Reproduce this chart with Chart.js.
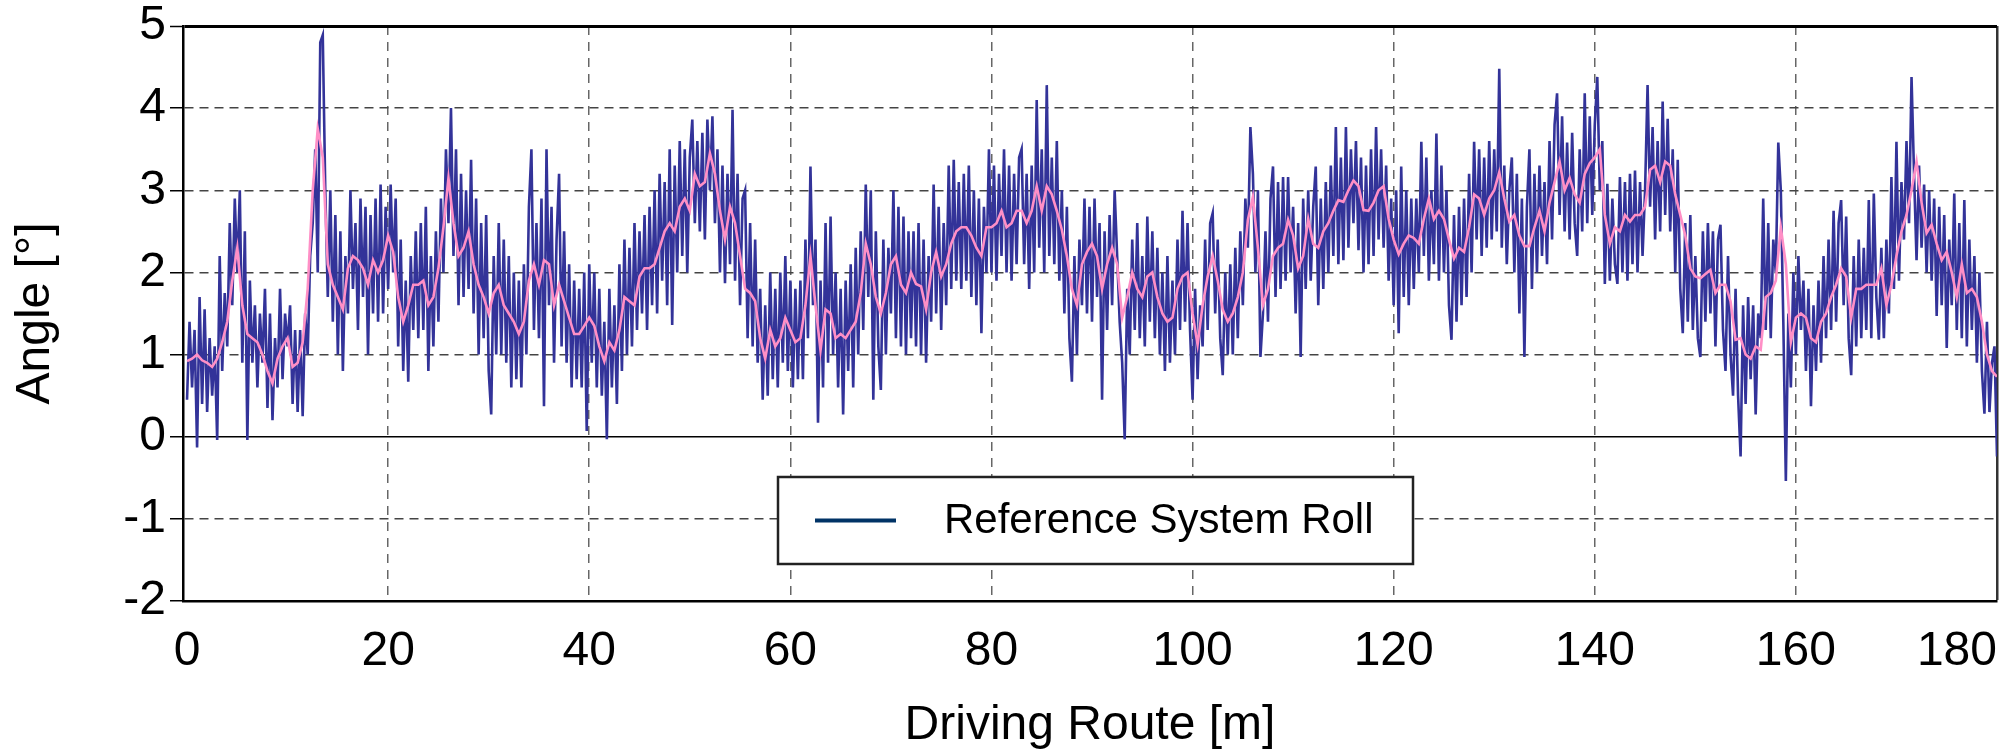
<!DOCTYPE html>
<html>
<head>
<meta charset="utf-8">
<title>Reference System Roll</title>
<script src="https://cdn.jsdelivr.net/npm/chart.js@4.4.1/dist/chart.umd.min.js"></script>
<style>
  html, body { margin: 0; padding: 0; background: #fff; }
  #wrap { width: 2009px; height: 750px; }
</style>
</head>
<body>
<div id="wrap"><canvas id="chart" width="2009" height="750"></canvas></div>
<script>
// Roll angle along the driving route, raw signal + smoothed trend

const xTicks = [0, 20, 40, 60, 80, 100, 120, 140, 160, 180];
const yTicks = [-2, -1, 0, 1, 2, 3, 4, 5];

const legendLabel = 'Reference System Roll';
const xTitle = 'Driving Route [m]';
const yTitle = 'Angle [°]';

// raw roll angle [°], one sample every 0.25 m (0 .. 180 m)
const rollStep = 0.25;
const rollRaw = [
  0.45, 1.4, 0.6, 1.3, -0.13, 1.7, 0.4, 1.55, 0.3, 1.2, 0.5, 1.1, -0.04, 2.2, 0.8, 1.75, 1.1, 2.6, 1.6, 2.9,
  2.0, 3.0, 0.9, 2.5, -0.04, 1.9, 0.9, 1.6, 0.6, 1.5, 0.9, 1.8, 0.35, 1.5, 0.2, 1.2, 0.6, 1.8, 0.7, 1.5,
  1.1, 1.6, 0.4, 1.3, 0.3, 1.3, 0.25, 1.5, 1.0, 2.2, 2.6, 3.5, 2.0, 4.8, 4.89, 3.0, 1.7, 3.0, 1.4, 2.7,
  1.0, 2.5, 0.8, 2.2, 1.5, 3.0, 1.8, 2.6, 1.3, 2.9, 1.7, 2.8, 1.0, 2.7, 1.5, 2.9, 1.4, 3.07, 1.5, 2.8,
  1.8, 3.07, 2.0, 2.9, 1.1, 2.4, 0.8, 1.9, 0.67, 2.2, 1.3, 2.5, 1.2, 2.6, 1.3, 2.8, 0.8, 2.2, 1.1, 2.5,
  1.4, 2.9, 2.0, 3.5, 2.6, 4.0, 2.2, 3.5, 1.6, 3.2, 1.7, 3.0, 1.8, 3.37, 1.5, 2.9, 1.0, 2.6, 1.2, 2.7,
  0.8, 0.27, 2.2, 1.0, 2.6, 1.0, 2.4, 0.9, 2.2, 0.6, 2.0, 0.7, 1.9, 0.6, 2.1, 1.0, 2.8, 3.5, 1.3, 2.6,
  1.2, 2.9, 0.37, 3.5, 1.6, 2.8, 0.9, 2.4, 3.2, 1.1, 2.5, 0.9, 2.1, 0.6, 1.9, 0.7, 1.8, 0.6, 2.0, 0.07,
  2.1, 0.9, 2.0, 0.6, 1.8, 0.5, 1.4, -0.03, 1.8, 0.6, 1.6, 0.4, 2.1, 0.8, 2.4, 1.0, 2.3, 1.1, 2.6, 1.3,
  2.5, 1.5, 2.7, 1.3, 2.8, 1.6, 3.0, 1.5, 3.2, 1.9, 3.1, 1.6, 3.5, 1.36, 3.3, 2.0, 3.6, 2.2, 3.5, 2.0,
  3.4, 3.86, 2.6, 3.6, 2.5, 3.7, 2.4, 3.86, 3.0, 3.9, 2.6, 3.5, 2.0, 3.3, 1.87, 3.2, 2.1, 3.98, 1.9, 3.2,
  1.6, 2.9, 3.0, 1.2, 2.6, 1.1, 2.4, 0.9, 1.8, 0.45, 1.6, 0.5, 2.0, 0.7, 1.8, 0.6, 2.0, 0.9, 2.2, 0.8,
  1.9, 0.6, 1.8, 0.7, 1.9, 0.7, 2.4, 1.2, 3.29, 1.6, 2.4, 0.17, 1.9, 0.6, 2.6, 0.9, 2.68, 1.0, 2.0, 0.6,
  1.8, 0.27, 1.9, 0.8, 2.1, 0.6, 2.3, 1.0, 2.5, 1.3, 3.07, 1.7, 3.0, 0.45, 2.5, 1.1, 0.57, 2.4, 1.0, 2.3,
  1.5, 3.0, 1.2, 2.8, 1.1, 2.68, 1.0, 2.5, 1.2, 2.5, 1.1, 2.6, 1.0, 2.4, 0.9, 2.2, 1.4, 3.07, 1.5, 2.8,
  1.3, 2.6, 1.6, 3.3, 1.8, 3.37, 1.9, 3.1, 1.8, 3.2, 1.9, 3.3, 1.7, 3.0, 1.6, 2.9, 1.26, 2.8, 2.0, 3.5,
  2.0, 3.3, 1.9, 3.2, 2.2, 3.5, 2.0, 3.3, 1.9, 3.2, 2.1, 3.4, 3.5, 2.1, 3.2, 1.8, 3.3, 2.0, 4.1, 2.3,
  3.5, 2.0, 4.28, 2.2, 3.4, 2.1, 3.6, 1.9, 3.0, 1.5, 2.8, 1.2, 0.67, 2.2, 1.0, 2.4, 1.6, 2.9, 1.5, 2.8,
  1.4, 2.9, 1.7, 2.6, 0.45, 2.5, 1.3, 2.7, 1.6, 3.0, 2.2, 1.4, 0.9, -0.03, 1.8, 1.0, 2.4, 1.3, 2.6, 1.2,
  2.2, 1.1, 2.68, 1.4, 2.5, 1.2, 2.3, 1.0, 2.0, 0.8, 2.2, 0.9, 1.9, 1.0, 2.4, 1.3, 2.75, 1.4, 2.6, 1.3,
  0.45, 1.8, 0.7, 1.6, 1.1, 2.4, 1.3, 2.6, 2.72, 1.5, 2.4, 1.2, 0.75, 2.0, 1.0, 2.1, 1.0, 2.3, 1.2, 2.5,
  1.6, 2.9, 2.3, 3.77, 3.2, 2.0, 3.0, 0.97, 1.5, 2.5, 1.4, 2.9, 3.29, 1.7, 3.1, 1.8, 3.16, 1.9, 3.16, 2.0,
  2.8, 1.5, 2.6, 0.97, 2.9, 1.8, 3.0, 1.9, 2.8, 3.29, 1.6, 2.9, 1.8, 3.1, 2.0, 3.3, 2.2, 3.77, 2.1, 3.4,
  2.15, 3.77, 2.3, 3.5, 2.6, 3.6, 2.27, 3.4, 2.0, 3.3, 2.1, 3.5, 2.2, 3.77, 2.4, 3.5, 2.3, 3.3, 1.9, 2.9,
  1.6, 3.0, 1.26, 3.29, 1.7, 3.0, 1.6, 2.9, 1.8, 2.9, 2.0, 3.59, 2.2, 3.4, 1.9, 3.0, 2.1, 3.69, 1.9, 3.3,
  2.0, 3.0, 1.6, 1.18, 2.7, 1.4, 2.8, 1.6, 2.9, 1.7, 3.2, 2.0, 3.59, 2.4, 3.5, 2.2, 3.4, 2.3, 3.6, 2.4,
  3.5, 2.5, 4.48, 2.3, 3.3, 2.1, 3.0, 3.4, 2.0, 3.2, 1.5, 2.9, 0.97, 2.8, 3.5, 1.8, 3.2, 2.0, 3.3, 2.2,
  3.1, 2.1, 3.6, 2.4, 3.8, 4.18, 2.7, 3.9, 2.5, 3.58, 2.4, 3.7, 2.6, 2.2, 3.5, 2.5, 4.18, 2.6, 3.9, 2.7,
  3.8, 4.38, 3.0, 3.6, 1.86, 3.08, 1.9, 2.9, 2.1, 1.86, 3.16, 2.0, 3.1, 1.9, 3.2, 2.1, 3.24, 2.0, 3.1, 2.2,
  3.0, 4.28, 2.8, 3.77, 2.4, 3.6, 2.5, 4.08, 2.7, 3.87, 2.5, 3.5, 2.0, 3.37, 1.8, 1.26, 2.6, 1.4, 2.7, 1.3,
  2.2, 1.2, 0.97, 2.5, 1.4, 2.6, 1.5, 2.5, 1.1, 2.4, 2.58, 1.3, 0.8, 2.2, 1.0, 0.5, 1.8, 0.5, -0.24, 1.6,
  0.4, 1.7, 0.7, 1.6, 0.27, 1.5, 1.2, 2.9, 1.3, 2.6, 1.2, 2.4, 2.0, 3.58, 3.0, 1.4, -0.54, 1.5, 0.6, 2.0,
  1.0, 2.2, 1.3, 1.9, 0.8, 1.8, 0.37, 1.6, 0.8, 1.9, 0.9, 2.2, 1.2, 2.4, 1.3, 2.75, 1.4, 2.6, 2.88, 1.6,
  2.68, 1.2, 0.75, 2.2, 1.1, 2.4, 1.2, 2.3, 1.3, 2.88, 1.2, 2.96, 1.7, 1.18, 2.3, 1.2, 2.4, 1.5, 3.16, 1.8,
  3.59, 1.9, 3.1, 2.4, 3.6, 2.6, 4.38, 3.2, 2.15, 3.3, 2.3, 3.07, 2.0, 3.0, 1.9, 2.9, 1.47, 2.8, 1.6, 2.7,
  1.08, 2.4, 1.6, 2.96, 1.3, 2.6, 1.2, 2.88, 1.1, 2.4, 1.3, 2.2, 0.9, 2.0, 0.8, 0.28, 1.4, 0.3, 0.9, 1.1,
  -0.24
];

// smoothed roll angle [°], one sample every 0.5 m (0 .. 180 m)
const trendStep = 0.5;
const rollTrend = [
  0.92, 0.95, 1.0, 0.93, 0.9, 0.85, 0.95, 1.15, 1.4, 1.9,
  2.3, 1.6, 1.25, 1.2, 1.15, 1.0, 0.8, 0.65, 0.95, 1.1,
  1.2, 0.85, 0.9, 1.15, 1.8, 3.0, 3.75, 3.4, 2.1, 1.85,
  1.7, 1.55, 2.05, 2.2, 2.15, 2.05, 1.85, 2.15, 2.0, 2.15,
  2.45, 2.25, 1.7, 1.4, 1.6, 1.85, 1.85, 1.9, 1.6, 1.7,
  2.05, 2.55, 3.15, 2.6, 2.2, 2.3, 2.5, 2.1, 1.85, 1.7,
  1.5, 1.75, 1.85, 1.6, 1.5, 1.4, 1.25, 1.4, 1.9, 2.1,
  1.85, 2.15, 2.1, 1.6, 1.85, 1.65, 1.45, 1.25, 1.25, 1.35,
  1.45, 1.35, 1.1, 0.92, 1.15, 1.05, 1.3, 1.7, 1.65, 1.6,
  1.95, 2.05, 2.05, 2.1, 2.3, 2.5, 2.6, 2.5, 2.8, 2.9,
  2.75, 3.2, 3.05, 3.1, 3.45, 3.2, 2.75, 2.4, 2.8, 2.6,
  2.2, 1.8, 1.75, 1.65, 1.2, 0.95, 1.3, 1.1, 1.2, 1.45,
  1.3, 1.15, 1.2, 1.6, 2.2, 1.6, 1.05, 1.55, 1.5, 1.2,
  1.25, 1.2, 1.3, 1.4, 1.75, 2.35, 2.1, 1.7, 1.5, 1.75,
  2.1, 2.2, 1.85, 1.75, 2.0, 1.86, 1.83, 1.55, 2.0, 2.25,
  1.95, 2.1, 2.35, 2.5, 2.55, 2.55, 2.45, 2.3, 2.2, 2.55,
  2.55, 2.6, 2.75, 2.55, 2.6, 2.75, 2.75, 2.6, 2.75, 3.05,
  2.75, 3.05, 2.95, 2.75, 2.52, 2.2, 1.8, 1.6, 2.1, 2.25,
  2.35, 2.2, 1.8, 2.1, 2.3, 2.1, 1.45, 1.7, 2.0, 1.8,
  1.7, 1.95, 2.0, 1.7, 1.5, 1.4, 1.45, 1.8, 1.95, 2.0,
  1.5, 1.12, 1.6, 1.95, 2.2, 1.9, 1.55, 1.4, 1.5, 1.7,
  2.0, 2.64, 2.92, 2.3, 1.6, 1.8, 2.2, 2.3, 2.35, 2.64,
  2.45, 2.05, 2.2, 2.65, 2.35, 2.3, 2.5, 2.6, 2.75, 2.88,
  2.86, 3.0, 3.12, 3.05, 2.76, 2.75, 2.85, 3.0, 3.05, 2.65,
  2.4, 2.22, 2.35, 2.45, 2.42, 2.35, 2.65, 2.9, 2.65, 2.75,
  2.65, 2.4, 2.17, 2.3, 2.25, 2.55, 2.95, 2.9, 2.7, 2.9,
  3.0, 3.22, 2.9, 2.62, 2.7, 2.45, 2.32, 2.32, 2.55, 2.75,
  2.5, 2.85, 3.1, 3.35, 3.0, 3.15, 2.95, 2.85, 3.2, 3.33,
  3.4, 3.5, 2.7, 2.35, 2.55, 2.5, 2.7, 2.62, 2.7, 2.7,
  2.8, 3.25, 3.3, 3.1, 3.35, 3.3, 2.95, 2.7, 2.45, 2.05,
  1.95, 1.93, 1.98, 2.03, 1.75, 1.85, 1.85, 1.65, 1.18, 1.2,
  1.0, 0.95, 1.1, 1.06, 1.7, 1.75, 1.9, 2.55, 2.1, 1.15,
  1.45, 1.5, 1.45, 1.2, 1.15, 1.4, 1.5, 1.7, 1.85, 2.05,
  1.95, 1.45, 1.8, 1.8, 1.85, 1.85, 1.85, 2.05, 1.6, 1.85,
  2.2, 2.5, 2.7, 3.0, 3.35, 2.85, 2.48, 2.58, 2.35, 2.15,
  2.25, 2.0, 1.7, 2.1, 1.75, 1.8, 1.7, 1.4, 1.0, 0.8,
  0.73
];

const FONT = '"Liberation Sans", Arial, sans-serif';
Chart.defaults.font = { family: FONT, size: 48 };
Chart.defaults.color = '#000';

const tv = c => (c && c.tick ? c.tick.value : null);

// legend drawn as a white box inside the plot, like the original
const legendBox = {
  id: 'legendBox',
  afterDatasetsDraw(chart, args, o) {
    const ctx = chart.ctx;
    ctx.save();
    ctx.fillStyle = '#fff';
    ctx.fillRect(o.left, o.top, o.width, o.height);
    ctx.lineWidth = 2.5;
    ctx.strokeStyle = '#222';
    ctx.strokeRect(o.left, o.top, o.width, o.height);
    const cy = o.top + o.height / 2;
    ctx.beginPath();
    ctx.moveTo(o.left + 37, cy);
    ctx.lineTo(o.left + 118, cy);
    ctx.lineWidth = 4;
    ctx.strokeStyle = '#003366';
    ctx.stroke();
    ctx.fillStyle = '#000';
    ctx.font = '42px ' + FONT;
    ctx.textBaseline = 'middle';
    ctx.textAlign = 'left';
    ctx.fillText(chart.data.datasets[0].label, o.left + 166, cy + 1);
    ctx.restore();
  }
};

new Chart(document.getElementById('chart'), {
  type: 'line',
  data: {
    datasets: [{
      label: legendLabel,
      data: rollRaw.map((y, i) => ({ x: i * rollStep, y })),
      borderColor: '#333399',
      borderWidth: 2.6,
      pointRadius: 0,
      tension: 0,
      order: 2,
    }, {
      label: 'Smoothed',
      data: rollTrend.map((y, i) => ({ x: i * trendStep, y })),
      borderColor: '#ff8fc6',
      borderWidth: 2.6,
      pointRadius: 0,
      tension: 0,
      order: 1,
    }],
  },
  options: {
    responsive: false,
    animation: false,
    events: [],
    layout: { autoPadding: false, padding: { top: 26, right: 12, left: 0, bottom: 0 } },
    plugins: {
      legend: { display: false },
      tooltip: { enabled: false },
      legendBox: { left: 778, top: 477, width: 635, height: 87 },
    },
    scales: {
      x: {
        type: 'linear',
        min: -0.4,
        max: 180,
        afterBuildTicks: s => { s.ticks = xTicks.map(v => ({ value: v })); },
        afterFit: s => { s.height = 149; s.paddingLeft = 0; s.paddingRight = 0; },
        ticks: {
          padding: 22,
          autoSkip: false,
          maxRotation: 0,
          // last label is pushed left so it stays on the page
          callback: v => (v === 180 ? '180\u2007\u2007\u2007' : String(v)),
        },
        grid: {
          drawTicks: false,
          color: c => (tv(c) === 0 ? 'rgba(0,0,0,0)' : tv(c) === 180 ? '#333' : '#666'),
          lineWidth: c => (tv(c) === 180 ? 2.5 : 1.5),
        },
        border: {
          display: true, color: '#000', width: 2.5,
          dash: c => (tv(c) === 180 ? [] : [9, 7]),
        },
        title: { display: true, text: xTitle, font: { size: 48, lineHeight: 1 }, padding: 0 },
      },
      y: {
        min: -2,
        max: 5,
        afterBuildTicks: s => { s.ticks = yTicks.map(v => ({ value: v })); },
        afterFit: s => { s.width = 183; s.paddingTop = 0; s.paddingBottom = 0; },
        ticks: { padding: 4 },
        grid: {
          tickLength: 13,
          tickColor: '#000',
          tickWidth: 1.5,
          tickBorderDash: [],
          color: c => (tv(c) === -2 ? 'rgba(0,0,0,0)' : (tv(c) === 0 || tv(c) === 5) ? '#000' : '#444'),
          lineWidth: c => (tv(c) === 5 ? 3 : 1.5),
        },
        border: {
          display: true, color: '#000', width: 2.5,
          dash: c => ((tv(c) === 0 || tv(c) === 5) ? [] : [9, 6]),
        },
        title: { display: true, text: yTitle, font: { size: 48, lineHeight: 1 }, padding: { top: 12, bottom: 0 } },
      },
    },
  },
  plugins: [legendBox],
});
</script>
</body>
</html>
